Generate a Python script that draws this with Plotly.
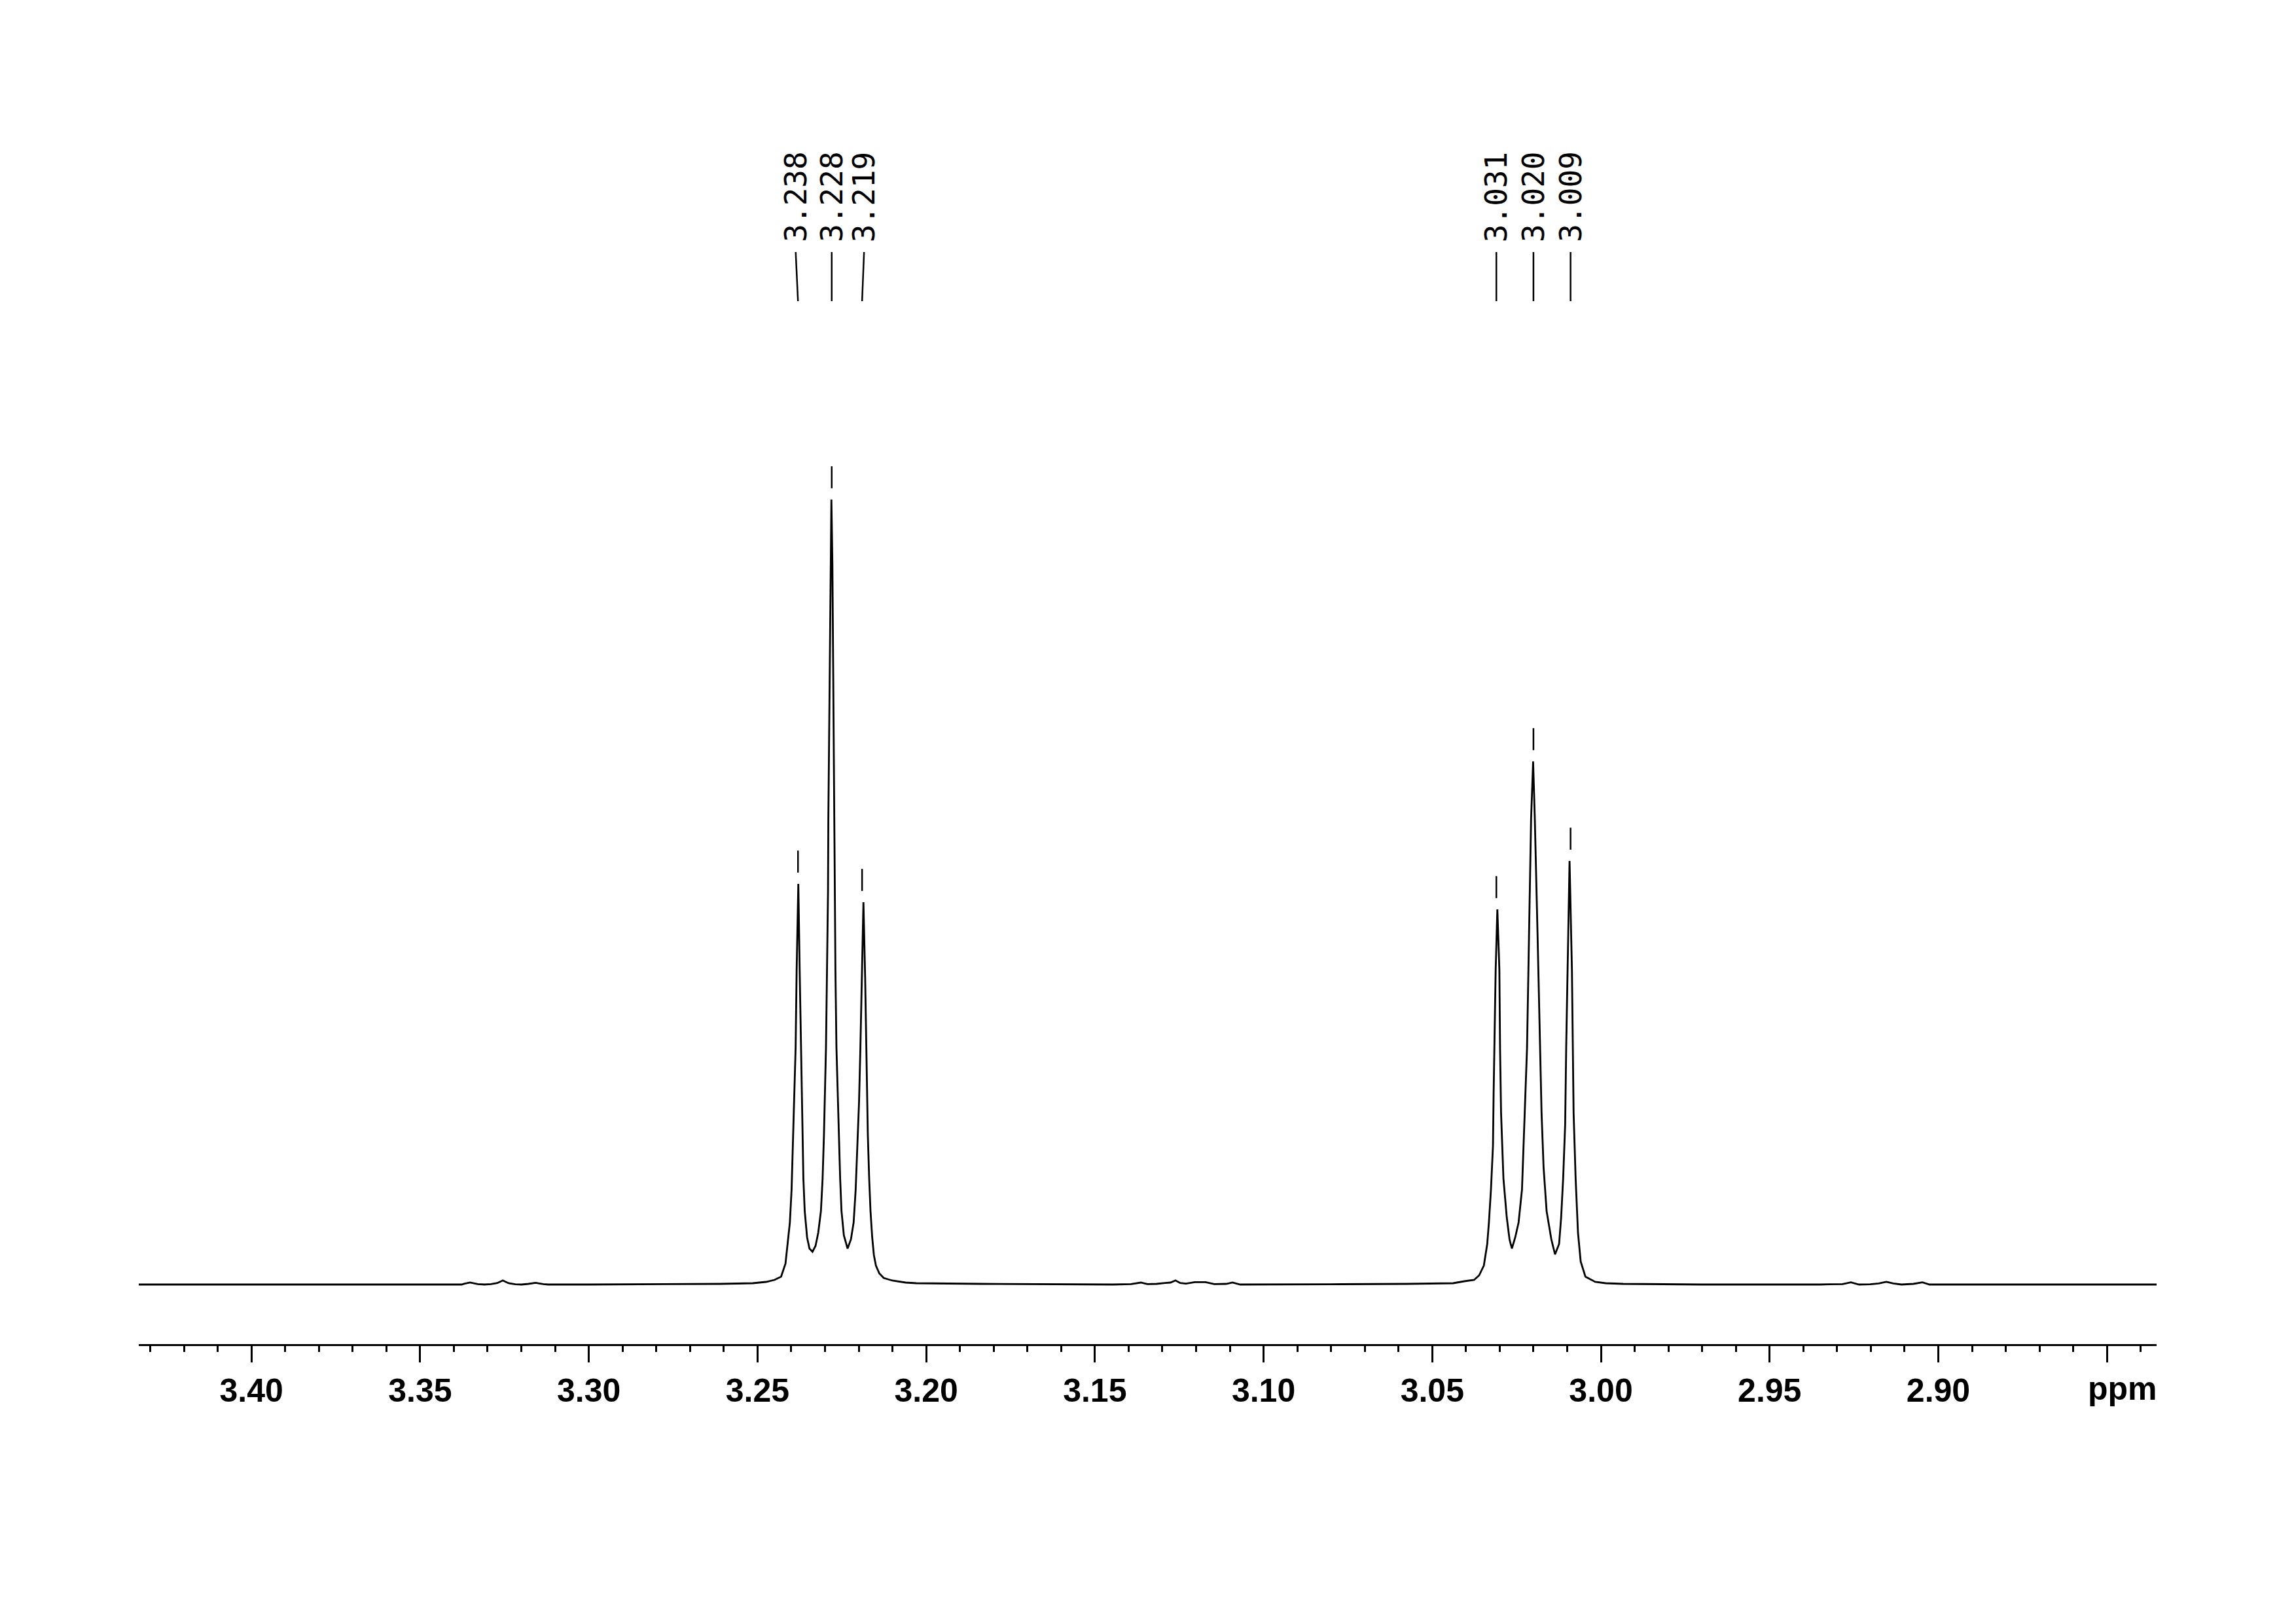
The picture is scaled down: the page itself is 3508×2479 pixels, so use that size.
import plotly.graph_objects as go

# ---------------- data ----------------
spec_ppm = [
    3.4334, 3.3484, 3.3377, 3.3368, 3.3352, 3.3329, 3.3309, 3.3290, 3.3271, 3.3255,
    3.3238, 3.3218, 3.3199, 3.3179, 3.3158, 3.3135, 3.3121, 3.2999, 3.2805, 3.2611,
    3.2514, 3.2475, 3.2450, 3.2430, 3.2417, 3.2411, 3.2404, 3.2399, 3.2396, 3.2392,
    3.2389, 3.2387, 3.2384, 3.2379, 3.2375, 3.2371, 3.2368, 3.2366, 3.2364, 3.2360,
    3.2353, 3.2346, 3.2337, 3.2328, 3.2320, 3.2312, 3.2307, 3.2303, 3.2300, 3.2297,
    3.2294, 3.2291, 3.2290, 3.2287, 3.2284, 3.2281, 3.2278, 3.2275, 3.2273, 3.2271,
    3.2269, 3.2266, 3.2262, 3.2258, 3.2255, 3.2251, 3.2244, 3.2233, 3.2223, 3.2215,
    3.2209, 3.2204, 3.2199, 3.2195, 3.2191, 3.2186, 3.2181, 3.2178, 3.2176, 3.2173,
    3.2169, 3.2165, 3.2160, 3.2155, 3.2149, 3.2139, 3.2126, 3.2100, 3.2061, 3.2029,
    3.1835, 3.1641, 3.1447, 3.1393, 3.1364, 3.1344, 3.1317, 3.1292, 3.1276, 3.1261,
    3.1247, 3.1230, 3.1204, 3.1172, 3.1146, 3.1111, 3.1092, 3.1069, 3.0962, 3.0768,
    3.0574, 3.0438, 3.0405, 3.0376, 3.0361, 3.0347, 3.0337, 3.0332, 3.0326, 3.0320,
    3.0318, 3.0316, 3.0312, 3.0307, 3.0301, 3.0299, 3.0296, 3.0289, 3.0279, 3.0271,
    3.0264, 3.0254, 3.0244, 3.0234, 3.0229, 3.0223, 3.0219, 3.0213, 3.0207, 3.0201,
    3.0196, 3.0188, 3.0180, 3.0176, 3.0170, 3.0161, 3.0147, 3.0136, 3.0124, 3.0118,
    3.0112, 3.0106, 3.0103, 3.0099, 3.0093, 3.0086, 3.0083, 3.0081, 3.0075, 3.0068,
    3.0060, 3.0046, 3.0017, 2.9986, 2.9934, 2.9701, 2.9352, 2.9284, 2.9259, 2.9235,
    2.9202, 2.9177, 2.9154, 2.9133, 2.9109, 2.9074, 2.9047, 2.9026, 2.8867, 2.8353,
]
spec_int = [
    0, 0, 0, 1.3, 3, 0.7, 0, 0.7, 2.3, 6.3,
    2, 0.3, 0, 1, 2.7, 0.7, 0, 0, 0.3, 1,
    2, 4, 7, 12, 32, 62, 95, 145, 195, 262,
    329, 362, 480, 612, 480, 362, 295, 229, 162, 112,
    72, 55, 50, 59, 79, 112, 162, 229, 295, 362,
    480, 600, 712, 900, 1100, 1199, 1100, 900, 712, 600,
    480, 362, 279, 212, 162, 112, 75, 55, 69, 95,
    145, 212, 279, 362, 470, 584, 470, 362, 295, 229,
    162, 112, 72, 45, 29, 17, 10, 6, 3, 2,
    1, 0.5, 0, 0.7, 3, 0.7, 1, 2.3, 3, 6.3,
    2.3, 1.3, 3.7, 3.7, 0.7, 1, 3, 0, 0, 0.5,
    1, 2, 5, 7, 14, 29, 62, 95, 145, 212,
    295, 362, 481, 573, 481, 362, 262, 162, 102, 69,
    55, 72, 95, 145, 212, 295, 362, 538, 712, 799,
    712, 538, 362, 262, 179, 112, 69, 46, 62, 102,
    162, 245, 362, 481, 647, 481, 362, 262, 162, 79,
    35, 12, 4, 2, 1, 0, 0, 0.7, 3.3, 0,
    0.3, 1.7, 4, 1.7, 0, 1, 3.3, 0, 0, 0,
]

peak_ppm = [3.238, 3.228, 3.219, 3.031, 3.020, 3.009]
peak_int = [612, 1199, 584, 573, 799, 647]

tick_values = [3.40, 3.35, 3.30, 3.25, 3.20, 3.15, 3.10, 3.05, 3.00, 2.95, 2.90, 2.85]
tick_labels = ["3.40", "3.35", "3.30", "3.25", "3.20", "3.15", "3.10", "3.05",
               "3.00", "2.95", "2.90", ""]
unit_label = "ppm"

# ---------------- styling ----------------
X_RANGE = [3.4334, 2.8353]
Y_RANGE = [-91, 1862]
label_spread_px = [-3.5, 0, 3, 0, 0, 0]
LABEL_Y = 1661          # centre of the rotated peak labels (data units)
CONN_TOP, CONN_BOT = 1577, 1502
MARK_OFFSET = 34

fig = go.Figure()

fig.add_trace(go.Scatter(
    x=spec_ppm, y=spec_int, mode="lines",
    line=dict(color="black", width=2.8),
    hoverinfo="skip", showlegend=False,
))

# small tick marks above each labelled peak
fig.add_trace(go.Scatter(
    x=peak_ppm, y=[v + MARK_OFFSET for v in peak_int], mode="markers",
    marker=dict(symbol="line-ns", size=24, line=dict(color="black", width=2.5)),
    hoverinfo="skip", showlegend=False,
))

# peak labels + connector lines
for p, sp in zip(peak_ppm, label_spread_px):
    fig.add_annotation(
        x=p, y=LABEL_Y, xref="x", yref="y", text=f"{p:.3f}",
        textangle=-90, showarrow=False, xanchor="center", yanchor="middle",
        xshift=sp, font=dict(family="DejaVu Sans Mono", size=46, color="black"),
    )
    fig.add_shape(
        type="line", xref="x", yref="y", xsizemode="pixel", xanchor=p,
        x0=sp, x1=0, y0=CONN_TOP, y1=CONN_BOT,
        line=dict(color="black", width=2.5),
    )

# unit label at the right end of the axis
fig.add_annotation(
    x=2.85, y=0, xref="x", yref="paper", text=f"<b>{unit_label}</b>",
    showarrow=False, xanchor="center", yanchor="top", xshift=24, yshift=-38,
    font=dict(family="Liberation Sans", size=50, color="black"),
)

# margins compensate for the 8px default body margin of the html page
fig.update_layout(
    width=3508, height=2479,
    margin=dict(l=204, r=221, t=92, b=434),
    paper_bgcolor="white", plot_bgcolor="white",
    showlegend=False,
    xaxis=dict(
        range=X_RANGE, showgrid=False, zeroline=False,
        showline=True, linecolor="black", linewidth=2.5,
        ticks="outside", ticklen=25, tickwidth=2.5, tickcolor="black",
        tickmode="array", tickvals=tick_values, ticktext=tick_labels,
        tickfont=dict(family="Liberation Sans", size=50, color="black", weight="bold"),
        minor=dict(tickmode="linear", tick0=2.85, dtick=0.01, ticks="outside",
                   ticklen=9, tickwidth=2.5, tickcolor="black", showgrid=False),
    ),
    yaxis=dict(range=Y_RANGE, visible=False, showgrid=False, zeroline=False),
)

fig.write_html("out.html")
